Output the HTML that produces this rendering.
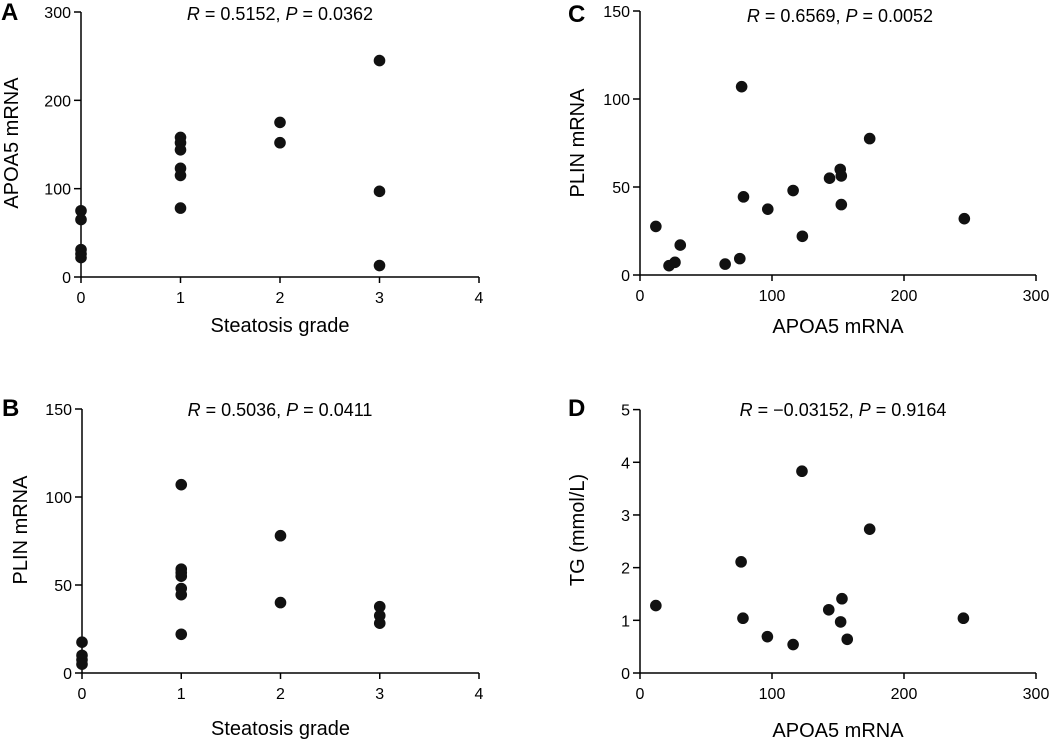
<!DOCTYPE html>
<html><head><meta charset="utf-8"><style>
body{margin:0;background:#fff;}
svg{display:block;font-family:"Liberation Sans",Arial,sans-serif;}
</style></head><body>
<svg id="fig" width="1050" height="741" viewBox="0 0 1050 741" xmlns="http://www.w3.org/2000/svg"></svg>
<script>
// Panel A data: steatosis grade vs APOA5 mRNA
const aX = [0,0,0,0,0,1,1,1,1,1,1,2,2,3,3,3];
const aY = [75,65,31,26,22,158,152,144,123,115,78,175,152,245,97,13];
// Panel B data: steatosis grade vs PLIN mRNA
const bX = [0,0,0,0,1,1,1,1,1,1,1,2,2,3,3,3];
const bY = [17.5,10,7.5,5,107,59,57,55,48,44.5,22,78,40,37.7,32.6,28.3];
// Panel C data: APOA5 mRNA vs PLIN mRNA
const cX = [12,22,26.5,30.5,64.5,75.6,77,78.4,96.8,116,123,143.6,151.7,152.5,152.5,174,245.7];
const cY = [27.6,5.3,7.2,17,6.2,9.3,107,44.4,37.4,48,22,55,60,56.3,40,77.5,32];
// Panel D data: APOA5 mRNA vs TG
const dX = [12,76.6,78,96.5,116,122.7,143,153,152,157,174,245];
const dY = [1.28,2.11,1.04,0.69,0.54,3.83,1.2,1.41,0.97,0.64,2.73,1.04];
const gradeTicks = [0,1,2,3,4];
const apoaTicks = [0,100,200,300];
const plinTicks = [0,50,100,150];
const tgTicks = [0,1,2,3,4,5];

const NS="http://www.w3.org/2000/svg";
const svg=document.getElementById('fig');
function mk(tag,attrs,parent){const e=document.createElementNS(NS,tag);for(const k in attrs)e.setAttribute(k,attrs[k]);(parent||svg).appendChild(e);return e;}

function panel(p){
  const g=mk('g',{});
  
  
  const sx=v=>p.x0+(v-p.xmin)/(p.xmax-p.xmin)*(p.x1-p.x0);
  const sy=v=>p.y0-(v-p.ymin)/(p.ymax-p.ymin)*(p.y0-p.y1);
  const ax=mk('line',{x1:p.x0,y1:p.y0,x2:p.x1,y2:p.y0,stroke:'#000','stroke-width':1.5},g);
  
  
  const ay=mk('line',{x1:p.x0,y1:p.y0,x2:p.x0,y2:p.y1,stroke:'#000','stroke-width':1.5},g);
  
  
  p.xt.forEach(v=>{
    mk('line',{x1:sx(v),y1:p.y0,x2:sx(v),y2:p.y0+6,stroke:'#000','stroke-width':1.5},g);
    const t=mk('text',{x:sx(v),y:p.y0+26,'font-size':16,'text-anchor':'middle'},g);
    t.textContent=v;
    
    
  });
  p.yt.forEach(v=>{
    mk('line',{x1:p.x0-7,y1:sy(v),x2:p.x0,y2:sy(v),stroke:'#000','stroke-width':1.5},g);
    const t=mk('text',{x:p.x0-10,y:sy(v)+6,'font-size':16,'text-anchor':'end'},g);
    t.textContent=v;
    
    
  });
  p.xs.forEach((v,i)=>{
    const c=mk('circle',{cx:sx(v),cy:sy(p.ys[i]),r:5.8,fill:'#111'},g);
    
    
  });
  const xt=mk('text',{x:(p.x0+p.x1)/2,y:p.xty,'font-size':20,'text-anchor':'middle'},g);
  xt.textContent=p.xtitle;
  
  
  const yt=mk('text',{x:0,y:0,'font-size':20,'text-anchor':'middle',transform:`translate(${p.ytx},${p.ytc}) rotate(-90)`},g);
  yt.textContent=p.ytitle;
  
  
  const tt=mk('text',{x:p.tx,y:p.ty,'font-size':18,'text-anchor':'middle'},g);
  tt.innerHTML='<tspan font-style="italic">R</tspan> = '+p.r+', <tspan font-style="italic">P</tspan> = '+p.pv;
  
  
  const lt=mk('text',{x:p.lx,y:p.ly,'font-size':24,'font-weight':'bold'},g);
  lt.textContent=p.id;
  
  
}
panel({id:'A',x0:81,x1:479,y0:277,y1:12,xmin:0,xmax:4,ymin:0,ymax:300,xt:gradeTicks,yt:apoaTicks,xs:aX,ys:aY,
  xtitle:'Steatosis grade',xty:332,ytitle:'APOA5 mRNA',ytx:18,ytc:143,tx:280,ty:20,r:'0.5152',pv:'0.0362',lx:1,ly:20});
panel({id:'C',x0:640,x1:1036,y0:275,y1:11,xmin:0,xmax:300,ymin:0,ymax:150,xt:apoaTicks,yt:plinTicks,xs:cX,ys:cY,
  xtitle:'APOA5 mRNA',xty:333,ytitle:'PLIN mRNA',ytx:584,ytc:143,tx:840,ty:22,r:'0.6569',pv:'0.0052',lx:568,ly:22});
panel({id:'B',x0:82,x1:479,y0:673,y1:409,xmin:0,xmax:4,ymin:0,ymax:150,xt:gradeTicks,yt:plinTicks,xs:bX,ys:bY,
  xtitle:'Steatosis grade',xty:735,ytitle:'PLIN mRNA',ytx:27,ytc:530,tx:280,ty:416,r:'0.5036',pv:'0.0411',lx:2,ly:416});
panel({id:'D',x0:640,x1:1036,y0:673,y1:409.6,xmin:0,xmax:300,ymin:0,ymax:5,xt:apoaTicks,yt:tgTicks,xs:dX,ys:dY,
  xtitle:'APOA5 mRNA',xty:737,ytitle:'TG (mmol/L)',ytx:584,ytc:530,tx:843,ty:416,r:'\u22120.03152',pv:'0.9164',lx:568,ly:416});
</script>
</body></html>
